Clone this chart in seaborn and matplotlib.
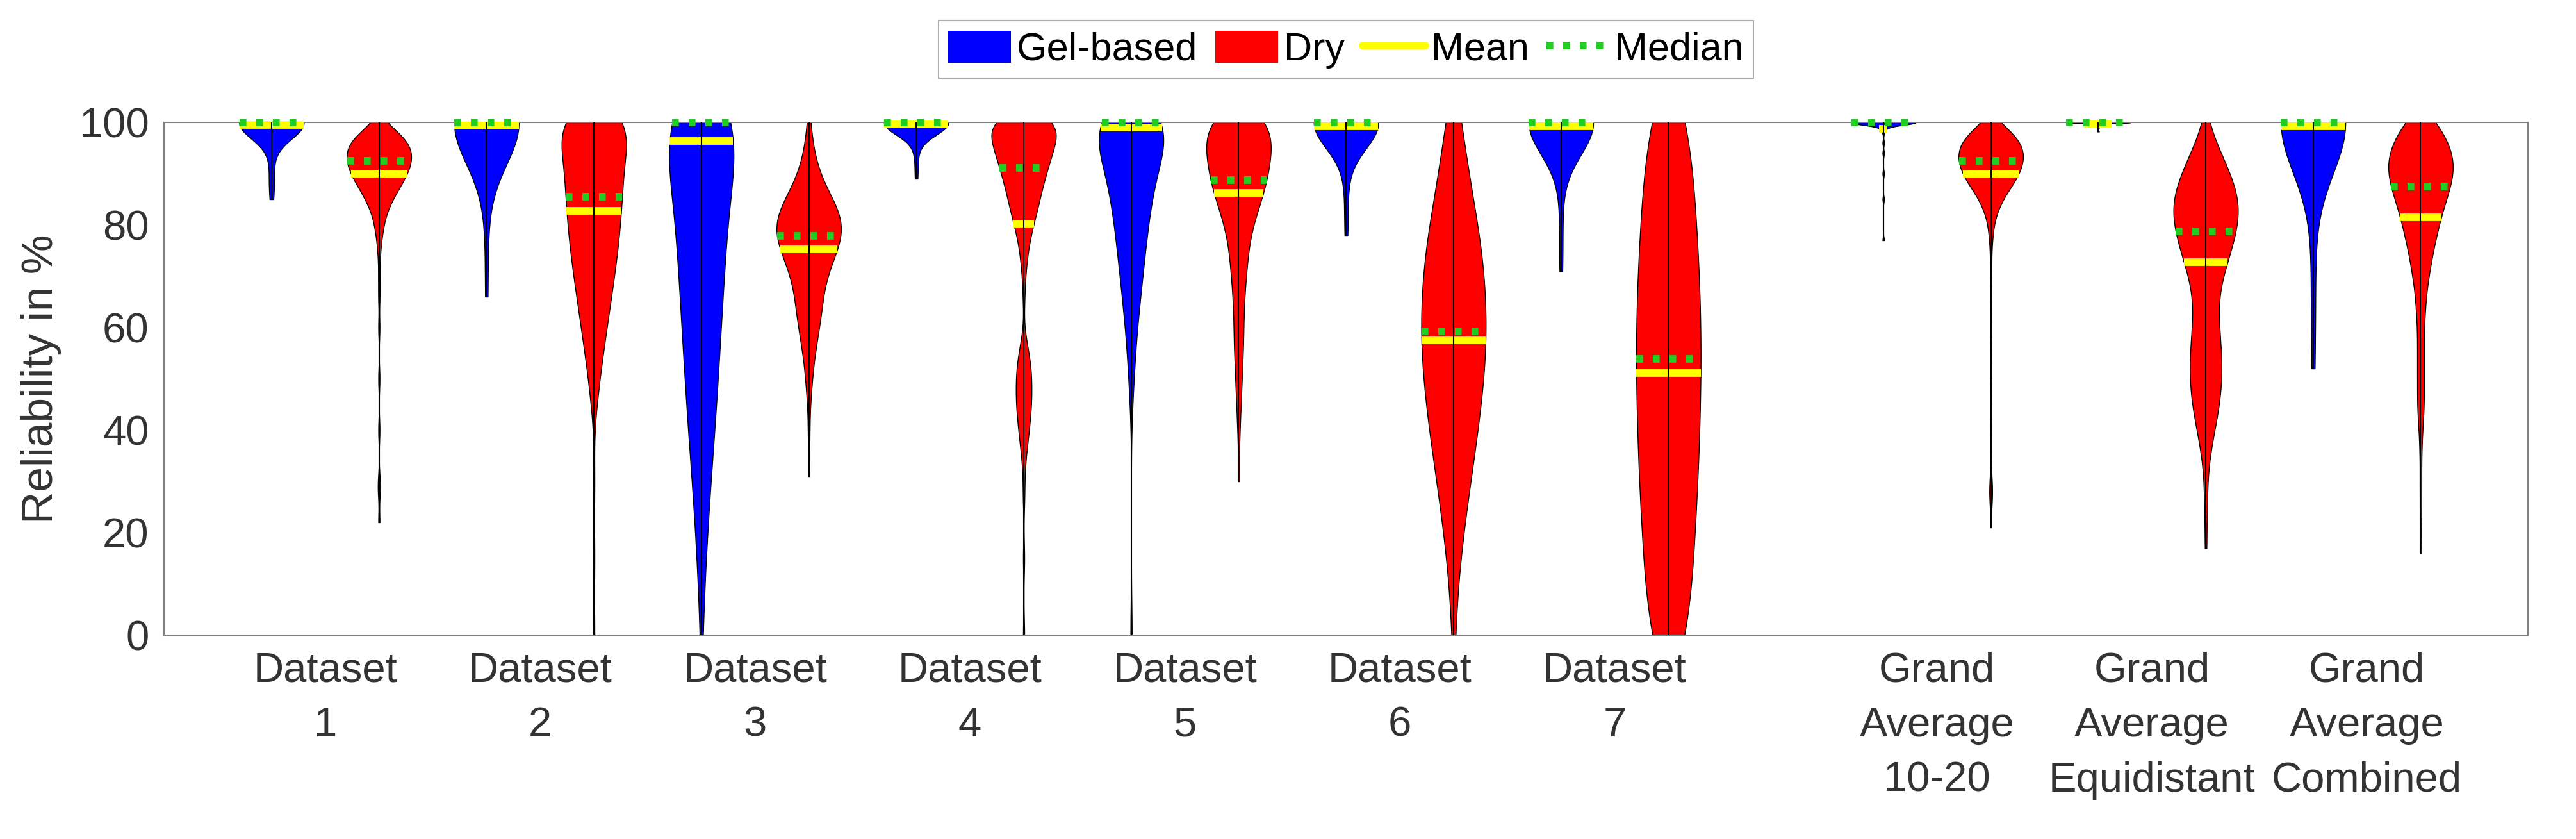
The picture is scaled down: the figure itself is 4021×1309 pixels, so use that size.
import numpy as np
import pandas as pd
import matplotlib.pyplot as plt
import seaborn as sns
from matplotlib.patches import Patch
from matplotlib.lines import Line2D

# x layout: two violins per group, one empty slot before the grand averages
group_labels = ["Dataset\n1", "Dataset\n2", "Dataset\n3", "Dataset\n4",
                "Dataset\n5", "Dataset\n6", "Dataset\n7",
                "Grand\nAverage\n10-20", "Grand\nAverage\nEquidistant",
                "Grand\nAverage\nCombined"]
gel_pos = [1, 3, 5, 7, 9, 11, 13, 16, 18, 20]
dry_pos = [2, 4, 6, 8, 10, 12, 14, 17, 19, 21]

gel_d1 = [(100, 30), (97, 2), (94, 1), (90, 1), (88, 1), (85, 1)]
gel_d2 = [(100, 30), (90, 1), (80, 1), (66, 1)]
gel_d3 = [(100, 34), (90, 19), (80, 17), (70, 15), (60, 13), (50, 11),
          (40, 9), (30, 6), (20, 4), (10, 2), (0, 1)]
gel_d4 = [(100, 30), (96, 1), (93, 1), (89, 1)]
gel_d5 = [(100, 32), (94, 18), (88, 14), (82, 11), (76, 9), (70, 7),
          (64, 5), (58, 3), (52, 2), (46, 1), (0, 1)]
gel_d6 = [(100, 30), (92, 1), (85, 1), (78, 1)]
gel_d7 = [(100, 30), (90, 1), (80, 1), (71, 1)]
gel_ga1020 = [(100, 40), (99, 3), (98, 1), (96, 1), (94, 1), (90, 1),
              (85, 1), (77, 1)]
gel_gaeq = [(100, 40), (99.6, 1), (99, 1), (98.2, 1)]
gel_gacomb = [(100, 30), (75, 1), (65, 1), (52, 1)]

dry_d1 = [(100, 3), (98, 13), (96, 19), (94, 21), (92, 20), (90, 18),
          (88, 14), (86, 10), (84, 7), (82, 4), (80, 3), (78, 2), (76, 1),
          (74, 1), (70, 1), (66, 1), (60, 1), (50, 1), (40, 1), (30, 1),
          (28, 1), (22, 1)]
dry_d2 = [(100, 32), (95, 20), (90, 20), (85, 19), (80, 18), (75, 16),
          (70, 14), (65, 11), (60, 9), (55, 6), (50, 4), (45, 2), (30, 1),
          (15, 1), (0, 1)]
dry_d3 = [(100, 1), (96, 2), (92, 4), (88, 8), (84, 16), (80, 22), (76, 18),
          (72, 12), (68, 8), (64, 8), (60, 6), (56, 4), (52, 2), (48, 2),
          (40, 1), (31, 1)]
dry_d4 = [(100, 28), (97, 20), (94, 18), (91, 15), (88, 12), (85, 10),
          (82, 8), (79, 5), (76, 3), (73, 2), (70, 1), (66, 1), (57, 2),
          (54, 4), (51, 5), (48, 5), (45, 5), (42, 4), (39, 3), (36, 2),
          (32, 1), (27, 1), (15, 1), (0, 1)]
dry_d5 = [(100, 23), (96, 20), (92, 19), (88, 17), (84, 13), (80, 8),
          (76, 6), (72, 5), (68, 4), (64, 3), (60, 3), (56, 3), (52, 2),
          (48, 2), (44, 1), (40, 1), (30, 1)]
dry_d6 = [(100, 5), (92, 8), (84, 12), (76, 17), (68, 19), (60, 20),
          (52, 19), (44, 16), (36, 13), (28, 9), (20, 6), (12, 3), (4, 1),
          (0, 1)]
dry_d7 = [(100, 14), (90, 16), (80, 18), (70, 20), (60, 21), (50, 21),
          (40, 20), (30, 19), (20, 17), (10, 15), (0, 14)]
dry_ga1020 = [(100, 5), (98, 14), (96, 19), (94, 21), (92, 20), (90, 18),
              (88, 14), (86, 9), (84, 6), (82, 3), (80, 2), (78, 1), (76, 1),
              (72, 1), (66, 1), (58, 1), (50, 1), (42, 1), (35, 1), (30, 1),
              (28, 1), (26, 1), (21, 1)]
dry_gaeq = [(100, 1), (96, 6), (92, 12), (88, 17), (84, 21), (80, 19),
            (76, 16), (72, 12), (68, 8), (64, 7), (60, 8), (56, 9), (52, 10),
            (48, 9), (44, 8), (40, 5), (36, 3), (32, 1), (28, 1), (24, 1),
            (17, 1)]
dry_gacomb = [(100, 10), (97, 15), (94, 19), (91, 20), (88, 18), (85, 15),
              (82, 12), (79, 10), (76, 8), (73, 6), (70, 5), (67, 3), (64, 3),
              (61, 2), (58, 2), (55, 2), (52, 2), (49, 2), (46, 2), (43, 2),
              (40, 1), (36, 1), (30, 1), (24, 1), (16, 1)]

gel_data = [gel_d1, gel_d2, gel_d3, gel_d4, gel_d5, gel_d6, gel_d7,
            gel_ga1020, gel_gaeq, gel_gacomb]
dry_data = [dry_d1, dry_d2, dry_d3, dry_d4, dry_d5, dry_d6, dry_d7,
            dry_ga1020, dry_gaeq, dry_gacomb]

gel_mean = [99.5, 99.4, 96.4, 99.6, 99.0, 99.2, 99.2, 98.8, 99.8, 99.2]
gel_median = [100, 100, 100, 100, 100, 100, 100, 100, 100, 100]
dry_mean = [90.0, 82.8, 75.3, 80.2, 86.3, 57.5, 51.1, 90.0, 72.8, 81.5]
dry_median = [92.5, 85.5, 77.9, 91.1, 88.8, 59.2, 53.9, 92.5, 78.7, 87.5]

# kernel width (in % units) used for each violin
gel_kernel = [3, 8, 10, 2.4, 6, 5, 6.2, 0.5, 0.15, 10]
dry_kernel = [2, 5, 4, 3, 4, 8, 10, 2, 4, 3]

rows = []
for sensor, positions, data in (("Gel-based", gel_pos, gel_data),
                                ("Dry", dry_pos, dry_data)):
    for pos, pairs in zip(positions, data):
        for value, count in pairs:
            rows += [(sensor, pos, value)] * count
df = pd.DataFrame(rows, columns=["sensor", "pos", "value"])

colors = {"Gel-based": "#0000FF", "Dry": "#FF0000"}
mean_color = "#FFFF00"
median_color = "#22CC22"
text_color = "#333333"
dotted = (0, (0.9, 1.3))

sns.set_style("white")
plt.rcParams["font.family"] = ["Liberation Sans", "DejaVu Sans"]

fig = plt.figure(figsize=(40.21, 13.09), dpi=100)
ax = fig.add_axes([0.0637, 0.2429, 0.9177, 0.6112])

for sensor, positions, kernels, means, medians in (
        ("Gel-based", gel_pos, gel_kernel, gel_mean, gel_median),
        ("Dry", dry_pos, dry_kernel, dry_mean, dry_median)):
    for pos, h, mean, median in zip(positions, kernels, means, medians):
        sub = df[(df["sensor"] == sensor) & (df["pos"] == pos)]
        sns.violinplot(data=sub, x="pos", y="value", native_scale=True,
                       orient="x", color=colors[sensor], saturation=1,
                       width=0.6, cut=0, density_norm="width",
                       bw_method=h / sub["value"].std(), gridsize=400,
                       inner=None, linecolor="black", linewidth=1, ax=ax)
        body = ax.collections[-1]
        body.set_zorder(2)

        # width of the violin at a given height, for the mean/median bars
        verts = body.get_paths()[0].vertices
        right = verts[verts[:, 0] > pos]
        order = np.argsort(right[:, 1])

        def half(y):
            return np.interp(y, right[order, 1], right[order, 0]) - pos

        ax.hlines(mean, pos - half(mean), pos + half(mean), colors=mean_color,
                  linewidth=8.5, zorder=3, clip_on=False)
        ax.vlines(pos, sub["value"].min(), sub["value"].max(), colors="black",
                  linewidth=1.5, zorder=4)
        ax.hlines(median, pos - half(median), pos + half(median),
                  colors=median_color, linewidth=8.5, linestyles=dotted,
                  zorder=5, clip_on=False)

ax.set_xlim(0, 22)
ax.set_ylim(0, 100)
ax.set_yticks([0, 20, 40, 60, 80, 100])
label_pos = [(g + d) / 2 for g, d in zip(gel_pos, dry_pos)]
ax.set_xticks(label_pos)
ax.set_xticklabels(group_labels, linespacing=1.55)
ax.set_xlabel("")
ax.set_ylabel("Reliability in %", fontsize=50, color=text_color, labelpad=20)
ax.tick_params(axis="both", length=0, labelsize=47, labelcolor=text_color)
ax.tick_params(axis="x", pad=18)
ax.tick_params(axis="y", pad=17)
for spine in ax.spines.values():
    spine.set_visible(True)
    spine.set_color("#808080")
    spine.set_linewidth(1.5)

handles = [Patch(facecolor=colors["Gel-based"], edgecolor="none"),
           Patch(facecolor=colors["Dry"], edgecolor="none"),
           Line2D([], [], color=mean_color, linewidth=8.5),
           Line2D([], [], color=median_color, linewidth=8.5, linestyle=dotted)]
leg = fig.legend(handles, ["Gel-based", "Dry", "Mean", "Median"],
                 loc="center", bbox_to_anchor=(0.5225, 0.941), ncol=4,
                 fontsize=44, frameon=True, fancybox=False, edgecolor="#999999",
                 handlelength=1.6, handleheight=0.9, handletextpad=0.15,
                 columnspacing=0.45, borderpad=0.25, borderaxespad=0)
leg.get_frame().set_linewidth(1.5)
for t in leg.get_texts():
    t.set_color("black")

fig.savefig("out.png", dpi=100)
